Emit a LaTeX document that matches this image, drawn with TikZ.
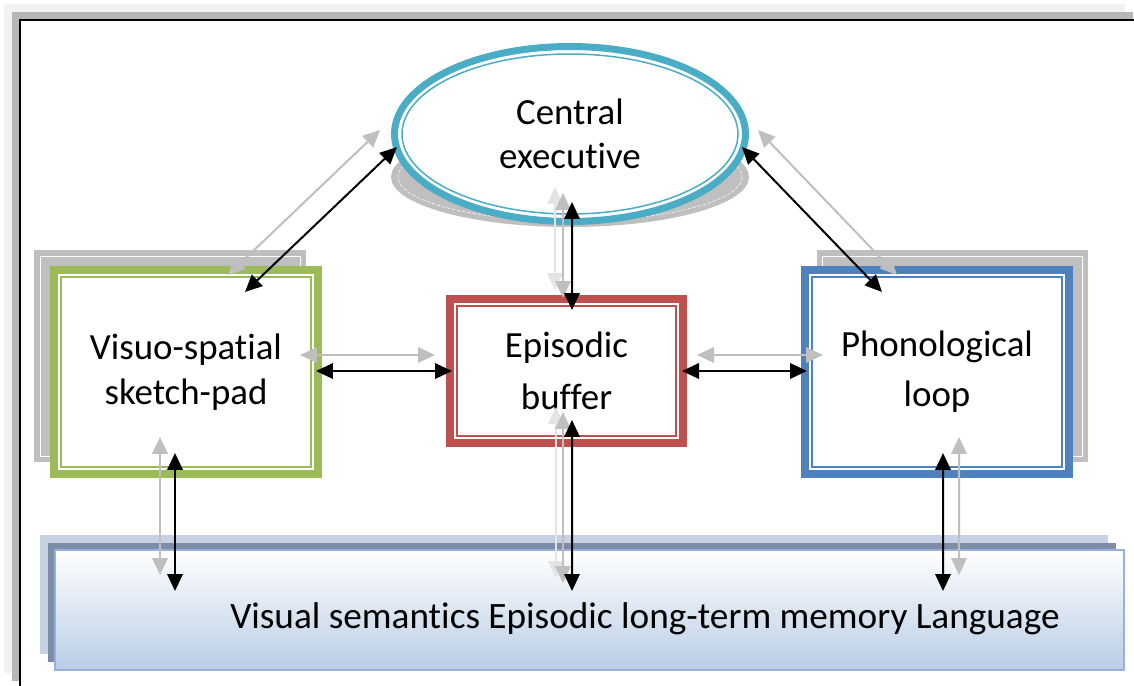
\documentclass[tikz,border=0pt]{standalone}
\usepackage{fontspec}
\setmainfont{Carlito}[Ligatures=CommonOff]
\usepackage{color}
\usetikzlibrary{calc}
\usetikzlibrary{shapes.geometric}
\usetikzlibrary{arrows.meta}

\definecolor{ceblue}{HTML}{4BACC6}
\definecolor{vsgreen}{HTML}{9BBB59}
\definecolor{ebred}{HTML}{C0504D}
\definecolor{plblue}{HTML}{4F81BD}
\definecolor{shadowgray}{HTML}{BFBFBF}
\definecolor{framelight}{HTML}{F2F2F2}
\definecolor{framegray}{HTML}{B7B7B7}
\definecolor{ltmback}{HTML}{C6D2E3}
\definecolor{ltmmid}{HTML}{7D8DA8}
\definecolor{ltmedge}{HTML}{95B3D7}
\definecolor{ltmfill}{HTML}{B9CDE5}
\definecolor{arrowgray}{HTML}{BFBFBF}
\definecolor{arrowlight}{HTML}{E4E4E4}

\begin{document}
\begin{tikzpicture}[x=0.02cm, y=-0.02cm]%
	\tikzstyle{box}=[rectangle, fill=white, line width=0.16cm, inner sep=0, outer sep=0, align=center, font=\fontsize{21}{25.5}\selectfont];
	\tikzstyle{shadowbox}=[rectangle, fill=shadowgray, draw=white, line width=0.4pt, inner sep=0, outer sep=0, minimum width=5.2cm, minimum height=4cm, preaction={draw=shadowgray, line width=0.24cm}];
	\tikzstyle{innerline}=[line width=0.03cm];
	\tikzstyle{duallink}=[{Triangle[length=0.34cm,width=0.31cm]}-{Triangle[length=0.34cm,width=0.31cm]}, line width=0.04cm];
	\tikzstyle{darklink}=[duallink, black];
	\tikzstyle{greylink}=[duallink, arrowgray];
	\tikzstyle{faintlink}=[duallink, arrowlight];
	\useasboundingbox (0, 0) rectangle (1134, 686);
	\fill[framelight] (4, 4) rectangle (1125, 673);
	\fill[framegray] (12, 12) rectangle (1133, 681);
	\draw[black, line width=0.04cm, fill=white] (20, 20) rectangle (1160, 720);
	\node[ellipse, fill=shadowgray, inner sep=0, minimum width=7.16cm, minimum height=2cm] (ceshadow) at (570, 177) {};
	\draw[white, line width=0.3pt, dash pattern=on 2pt off 1pt] (ceshadow.center) ellipse (172 and 44);
	\node[ellipse, draw=ceblue, fill=white, line width=0.14cm, inner sep=0, minimum width=7.02cm, minimum height=3.5cm, align=center, font=\fontsize{21}{25}\selectfont] (ce) at (570, 134) {Central\\executive};
	\draw[ceblue, innerline] (ce.center) ellipse (168 and 80);
	\node (vsshadow) at (170, 356) [shadowbox] {};
	\node (plshadow) at (952.5, 356) [shadowbox] {};
	\node[draw=vsgreen, minimum width=5.28cm, minimum height=4.08cm] (vs) at (186, 372) [box] {Visuo-spatial\\sketch-pad};
	\node[draw=ebred, minimum width=4.66cm, minimum height=2.88cm] (eb) at (566.5, 371) [box, font=\fontsize{21}{29.5}\selectfont] {Episodic\\buffer};
	\node[draw=plblue, minimum width=5.28cm, minimum height=4.08cm] (pl) at (937, 372) [box, font=\fontsize{21}{28.4}\selectfont] {Phonological\\loop};
	\draw[vsgreen, innerline] ($(vs.north west)+(7, 7)$) rectangle ($(vs.south east)+(-7, -7)$);
	\draw[ebred, innerline] ($(eb.north west)+(7, 7)$) rectangle ($(eb.south east)+(-7, -7)$);
	\draw[plblue, innerline] ($(pl.north west)+(7, 7)$) rectangle ($(pl.south east)+(-7, -7)$);
	\fill[ltmback] (40, 535) rectangle (1108, 654);
	\fill[ltmmid] (48, 543) rectangle (1116, 662);
	\node[draw=ltmedge, line width=0.03cm, top color=white, bottom color=ltmfill, inner sep=0, outer sep=0, minimum width=21.38cm, minimum height=2.4cm] (ltm) at (589.5, 610) {};
	\node[inner sep=0, font=\fontsize{21.2}{25.5}\selectfont] (ltmtext) at (645, 619) {Visual semantics Episodic long-term memory Language};
	\draw[greylink] ($(vs.center)+(42, -97)$) -- ($(ce.center)+(-190, -4)$);
	\draw[darklink] ($(vs.center)+(59, -80)$) -- ($(ce.center)+(-173, 13)$);
	\draw[greylink] ($(pl.center)+(-40, -97)$) -- ($(ce.center)+(188, -4)$);
	\draw[darklink] ($(pl.center)+(-55, -80)$) -- ($(ce.center)+(172, 13)$);
	\draw[faintlink] ($(eb.center)+(-11.5, -81)$) -- ($(ce.center)+(-15, 53)$);
	\draw[greylink] ($(eb.center)+(-3.5, -73)$) -- ($(ce.center)+(-7, 59)$);
	\draw[darklink] ($(eb.center)+(5.5, -61)$) -- ($(ce.center)+(2, 68)$);
	\draw[greylink] ($(vs.center)+(114, -17)$) -- ($(eb.center)+(-131.5, -16)$);
	\draw[darklink] ($(vs.center)+(130, -1)$) -- ($(eb.center)+(-114.5, 0)$);
	\draw[greylink] ($(eb.center)+(130.5, -16)$) -- ($(pl.center)+(-114, -17)$);
	\draw[darklink] ($(eb.center)+(115.5, 0)$) -- ($(pl.center)+(-130, -1)$);
	\draw[greylink] ($(vs.center)+(-26, 65)$) -- ($(ltm.center)+(-429.5, -35)$);
	\draw[darklink] ($(vs.center)+(-11, 81)$) -- ($(ltm.center)+(-414.5, -19)$);
	\draw[faintlink] ($(eb.center)+(-10.5, 36)$) -- ($(ltm.center)+(-33.5, -32)$);
	\draw[greylink] ($(eb.center)+(-3.5, 41)$) -- ($(ltm.center)+(-26.5, -27)$);
	\draw[darklink] ($(eb.center)+(5.5, 49)$) -- ($(ltm.center)+(-17.5, -19)$);
	\draw[greylink] ($(pl.center)+(22, 65)$) -- ($(ltm.center)+(369.5, -35)$);
	\draw[darklink] ($(pl.center)+(6, 81)$) -- ($(ltm.center)+(353.5, -19)$);
\end{tikzpicture}
\end{document}
